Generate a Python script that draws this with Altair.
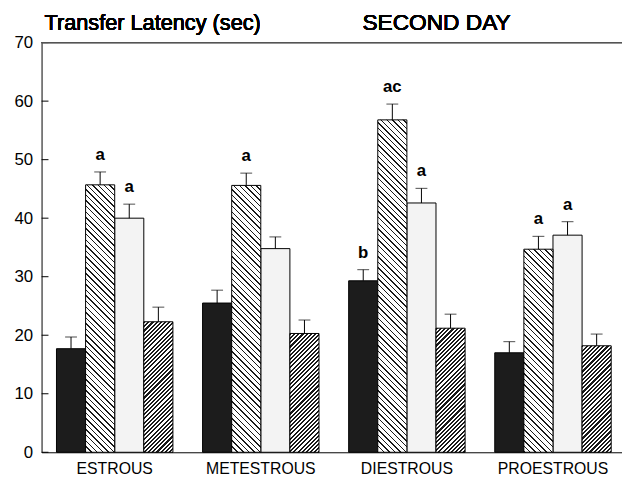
import math
import altair as alt
import pandas as pd

# ---------------- data ----------------
groups = ["ESTROUS", "METESTROUS", "DIESTROUS", "PROESTROUS"]
series = ["s1", "s2", "s3", "s4"]

black = [17.7, 25.5, 29.3, 17.0]
black_err = [2.0, 2.2, 1.9, 1.9]
hatch = [45.7, 45.6, 56.8, 34.7]
hatch_err = [2.2, 2.1, 2.7, 2.2]
dotted = [40.0, 34.8, 42.6, 37.1]
dotted_err = [2.4, 2.0, 2.5, 2.3]
dense = [22.3, 20.3, 21.2, 18.2]
dense_err = [2.5, 2.3, 2.4, 2.0]

letters_black = ["", "", "b", ""]
letters_hatch = ["a", "a", "ac", "a"]
letters_dotted = ["a", "", "a", "a"]
letters_dense = ["", "", "", ""]

y_ticks = [0, 10, 20, 30, 40, 50, 60, 70]

title_left = "Transfer Latency (sec)"
title_right = "SECOND DAY"

# ---------------- layout ----------------
W, H, YMAX = 588, 415, 70
PI, PO, ALIGN = 0.203, 0.088, 0.58
FONT = "Liberation Sans"

step = W / (len(groups) - PI + 2 * PO)
band = step * (1 - PI)
barw = band / len(series)

rows = []
vals = [black, hatch, dotted, dense]
errs = [black_err, hatch_err, dotted_err, dense_err]
labs = [letters_black, letters_hatch, letters_dotted, letters_dense]
for si, s in enumerate(series):
    for gi, g in enumerate(groups):
        v = vals[si][gi]
        e = errs[si][gi]
        rows.append({"group": g, "series": s, "value": v,
                     "top": v + e, "label": labs[si][gi]})
df = pd.DataFrame(rows)
tick_df = pd.DataFrame({"v": y_ticks})


def stripe_fill(value, spacing, frac, direction, dark="#1a1a1a", light="#ffffff"):
    h = value * H / YMAX
    w = barw
    c = (w + h) * w / (w * w + h * h)
    if direction == "back":
        x1, y1, x2, y2 = 0, 1, c, 1 - c * h / w
    else:
        x1, y1, x2, y2 = 0, 0, c, c * h / w
    L = w + h
    P = spacing * math.sqrt(2)
    stops = []
    u = 0.0
    while u < L:
        a = min(u / L, 1)
        b = min((u + frac * P) / L, 1)
        e = min((u + P) / L, 1)
        stops += [
            alt.GradientStop(offset=round(a, 5), color=dark),
            alt.GradientStop(offset=round(b, 5), color=dark),
            alt.GradientStop(offset=round(b, 5), color=light),
            alt.GradientStop(offset=round(e, 5), color=light),
        ]
        u += P
    return alt.LinearGradient(gradient="linear", stops=stops,
                              x1=x1, y1=y1, x2=round(x2, 6), y2=round(y2, 6))


x_enc = alt.X("group:N", sort=groups,
              scale=alt.Scale(domain=groups, paddingInner=PI, paddingOuter=PO, align=ALIGN),
              axis=alt.Axis(title=None, labelAngle=0, ticks=False, labelFontSize=16,
                            labelPadding=8, domainColor="black", labelColor="black",
                            labelFont=FONT))
xo_enc = alt.XOffset("series:N", scale=alt.Scale(domain=series, paddingInner=0, paddingOuter=0))
y_scale = alt.Scale(domain=[0, YMAX], nice=False, zero=True)
y_enc = alt.Y("value:Q", scale=y_scale,
              axis=alt.Axis(values=y_ticks, title=None, grid=False, tickSize=0,
                            labelPadding=9, labelFontSize=17, labelColor="black",
                            domainColor="black", labelFont=FONT))

base = alt.Chart(df)

layers = []
layers.append(
    base.transform_filter(alt.FieldOneOfPredicate(field="series", oneOf=["s1", "s3"]))
    .mark_bar(stroke="black", strokeWidth=1)
    .encode(x=x_enc, xOffset=xo_enc, y=y_enc,
            fill=alt.Fill("series:N", scale=alt.Scale(domain=["s1", "s3"],
                                                      range=["#1c1c1c", "#f3f3f3"]),
                          legend=None))
)

for gi, g in enumerate(groups):
    layers.append(
        base.transform_filter((alt.datum.group == g) & (alt.datum.series == "s2"))
        .mark_bar(fill=stripe_fill(hatch[gi], 4.0, 0.26, "back"), stroke="black", strokeWidth=1)
        .encode(x=x_enc, xOffset=xo_enc, y=y_enc)
    )
    layers.append(
        base.transform_filter((alt.datum.group == g) & (alt.datum.series == "s4"))
        .mark_bar(fill=stripe_fill(dense[gi], 3.0, 0.5, "fwd"), stroke="black", strokeWidth=1)
        .encode(x=x_enc, xOffset=xo_enc, y=y_enc)
    )

layers.append(
    base.mark_rule(color="black", strokeWidth=1)
    .encode(x=x_enc, xOffset=xo_enc, y=y_enc, y2="top:Q")
)
layers.append(
    base.mark_tick(color="black", thickness=1, size=12, orient="horizontal")
    .encode(x=x_enc, xOffset=xo_enc, y=alt.Y("top:Q", scale=y_scale, title=None))
)
layers.append(
    base.mark_text(baseline="bottom", dy=-8, fontSize=17, fontWeight="bold", font=FONT, color="black")
    .encode(x=x_enc, xOffset=xo_enc, y=alt.Y("top:Q", scale=y_scale, title=None), text="label:N")
)
layers.append(
    alt.Chart(tick_df).mark_rule(color="black", strokeWidth=1)
    .encode(y=alt.Y("v:Q", scale=y_scale, title=None), x=alt.value(0), x2=alt.value(7))
)
layers.append(
    alt.Chart(tick_df).mark_rule(color="#555555", strokeWidth=1)
    .encode(y=alt.datum(YMAX))
)
layers.append(
    alt.Chart(tick_df).mark_text(text=title_left, align="left", baseline="alphabetic",
                                 fontSize=22, font=FONT, color="black")
    .encode(x=alt.value(3), y=alt.value(-13))
)
layers.append(
    alt.Chart(tick_df).mark_text(text=title_right, align="left", baseline="alphabetic",
                                 fontSize=23, font=FONT, color="black")
    .encode(x=alt.value(325), y=alt.value(-13))
)

chart = alt.layer(*layers).properties(
    width=W, height=H,
    padding={"left": 34, "top": 32, "right": 0, "bottom": 24},
    autosize=alt.AutoSizeParams(type="none"),
    background="white",
).configure_view(stroke=None)

chart.save("out.html", embed_options={"renderer": "svg", "actions": False})
